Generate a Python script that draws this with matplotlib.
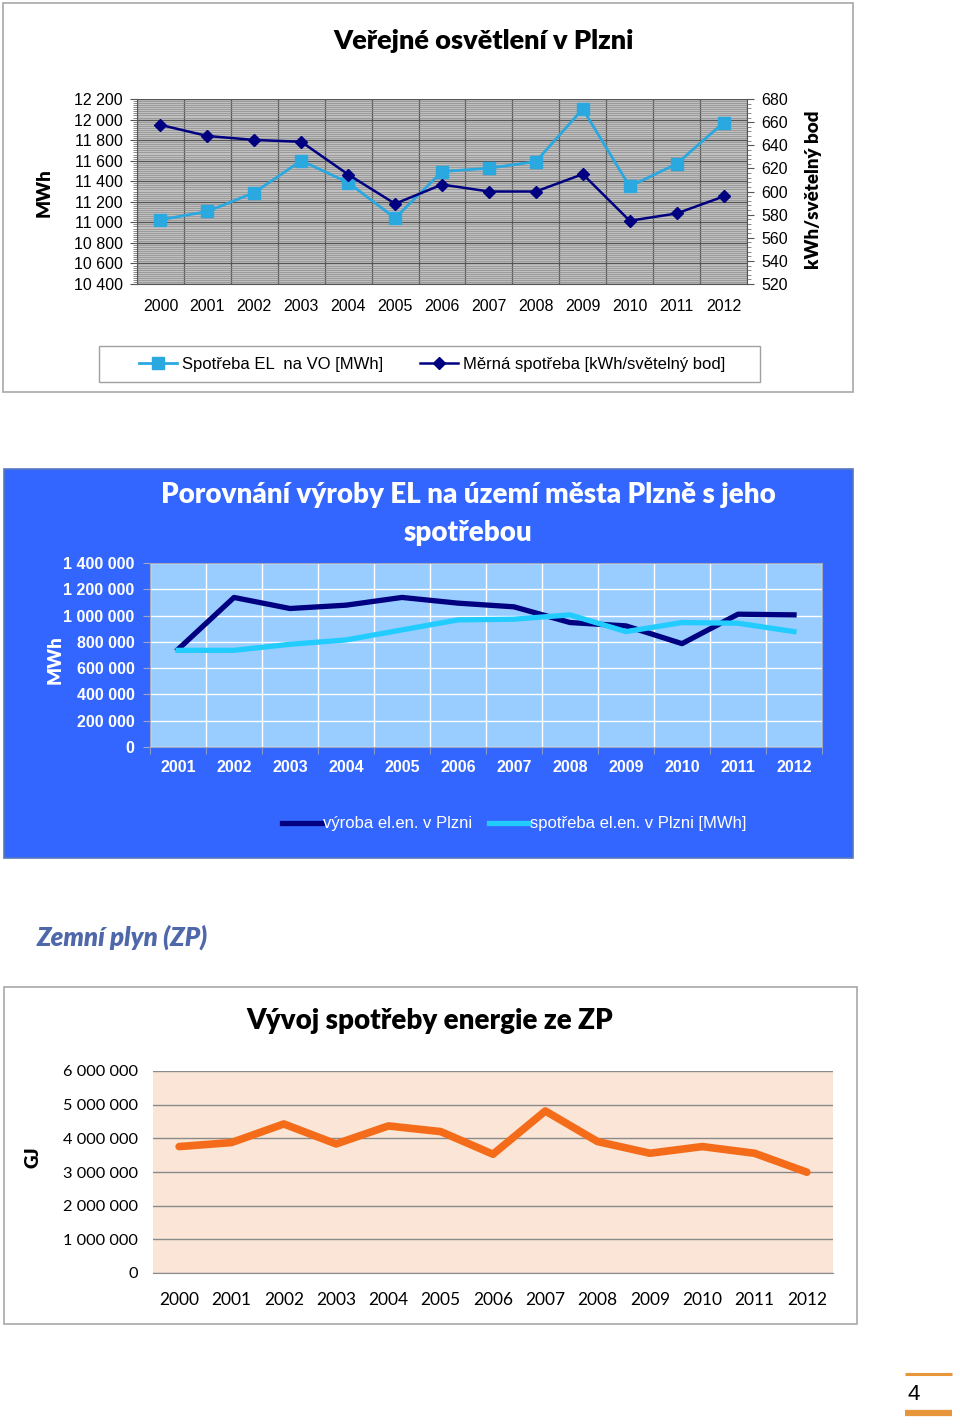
import numpy as np
import matplotlib
matplotlib.use("Agg")
import matplotlib.pyplot as plt
from matplotlib.patches import Rectangle
from matplotlib.lines import Line2D
from matplotlib.ticker import FuncFormatter, MultipleLocator

W, H = 960, 1425
ARIAL = ["Liberation Sans", "DejaVu Sans"]
CALIBRI = ["Lato", "Open Sans", "DejaVu Sans"]

# --- chart 1: Veřejné osvětlení v Plzni
years_vo = [str(y) for y in range(2000, 2013)]
spotreba_vo = [11025, 11106, 11290, 11600, 11387, 11041, 11494, 11527, 11591, 12103, 11349, 11569, 11970]
merna_vo = [657.6, 648, 644.6, 643, 614.7, 589.4, 606, 600, 600, 615, 574.7, 581, 595.7]

# --- chart 2: výroba vs spotřeba
years_el = [str(y) for y in range(2001, 2013)]
vyroba_el = [743000, 1137800, 1053800, 1079000, 1138000, 1094500, 1066500, 947000, 921500, 786500, 1010500, 1005500]
spotreba_el = [735600, 735600, 781500, 814500, 891000, 967000, 972400, 1005500, 878000, 947000, 941800, 878000]

# --- chart 3: zemní plyn
years_zp = [str(y) for y in range(2000, 2013)]
spotreba_zp = [3755000, 3874000, 4427000, 3834000, 4368000, 4200000, 3528000, 4812000, 3903000, 3557000, 3755000, 3557000, 2994000]


def box(x0, y0, x1, y1):
    return [x0 / W, 1 - y1 / H, (x1 - x0) / W, (y1 - y0) / H]


def fx(x):
    return x / W


def fy(y):
    return 1 - y / H


def panel(x0, y0, x1, y1, **kw):
    # background box of one chart, drawn under the axes
    fig.add_artist(Rectangle((fx(x0), fy(y1)), (x1 - x0) / W, (y1 - y0) / H,
                             transform=fig.transFigure, zorder=-5, **kw))


spaced = FuncFormatter(lambda v, p: f"{int(round(v)):,}".replace(",", " "))

fig = plt.figure(figsize=(W / 100, H / 100), dpi=100)
fig.patch.set_facecolor("white")

# ================= chart 1 =================
panel(3, 3, 853, 392, facecolor="white", edgecolor="#A8A8A8", lw=1.2)
ax1 = fig.add_axes(box(137, 99, 747, 284))
ax1.set_facecolor("#C0C0C0")
x1 = np.arange(len(years_vo))
ax1.set_xlim(-0.5, len(years_vo) - 0.5)
ax1.set_ylim(10400, 12200)
ax1.yaxis.set_major_locator(MultipleLocator(200))
ax1.yaxis.set_minor_locator(MultipleLocator(20))
ax1.yaxis.set_major_formatter(spaced)
ax1.set_xticks(x1)
ax1.set_xticklabels(years_vo)
ax1.set_xticks(np.arange(-0.5, len(years_vo), 1), minor=True)
ax1.grid(which="major", axis="y", color="#555555", lw=0.9)
ax1.grid(which="minor", axis="y", color="#8C8C8C", lw=0.5)
ax1.grid(which="minor", axis="x", color="#555555", lw=0.9)
ax1.set_axisbelow(True)
ax1.tick_params(axis="x", which="both", length=0, pad=11, labelsize=11.5)
ax1.tick_params(axis="y", which="major", length=5, color="#555555", labelsize=11.5, pad=5)
ax1.tick_params(axis="y", which="minor", length=3, color="#777777")
for lbl in ax1.get_xticklabels() + ax1.get_yticklabels():
    lbl.set_family(ARIAL)
for s in ["top", "right"]:
    ax1.spines[s].set_visible(False)
ax1.spines["left"].set_color("#555555")
ax1.spines["bottom"].set_color("#555555")

l1, = ax1.plot(x1, spotreba_vo, color="#2AA8E0", lw=2, marker="s", ms=8,
               label="Spotřeba EL  na VO [MWh]", zorder=3)
ax1r = ax1.twinx()
ax1r.set_ylim(520, 680)
ax1r.yaxis.set_major_locator(MultipleLocator(20))
ax1r.yaxis.set_minor_locator(MultipleLocator(4))
ax1r.tick_params(axis="y", which="major", length=5, color="#555555", labelsize=11.5, pad=5)
ax1r.tick_params(axis="y", which="minor", length=3, color="#777777")
for lbl in ax1r.get_yticklabels():
    lbl.set_family(ARIAL)
for s in ["top", "left", "bottom"]:
    ax1r.spines[s].set_visible(False)
ax1r.spines["right"].set_color("#555555")
l2, = ax1r.plot(x1, merna_vo, color="#000080", lw=1.8, marker="D", ms=6.5,
                label="Měrná spotřeba [kWh/světelný bod]", zorder=3)

fig.text(fx(484), fy(41), "Veřejné osvětlení v Plzni", ha="center", va="center",
         fontsize=19.5, fontweight="heavy", family=CALIBRI)
fig.text(fx(44), fy(193), "MWh", rotation=90, ha="center", va="center",
         fontsize=13.5, fontweight="heavy", family=CALIBRI)
fig.text(fx(813), fy(190), "kWh/světelný bod", rotation=90, ha="center", va="center",
         fontsize=13.5, fontweight="heavy", family=CALIBRI)

fig.add_artist(Rectangle((fx(99), fy(382)), fx(661), 36 / H, transform=fig.transFigure,
                         facecolor="white", edgecolor="#A0A0A0", lw=1, zorder=-4))
fig.legend(handles=[l1, l2], loc="center", bbox_to_anchor=(fx(432), fy(364)), ncol=2,
           frameon=False, handlelength=2.3, columnspacing=2.2, handletextpad=0.3,
           prop={"family": ARIAL, "size": 12})

# ================= chart 2 =================
panel(4, 469, 853, 858, facecolor="#3366FF", edgecolor="#5577C0", lw=1.2)
ax2 = fig.add_axes(box(150, 563, 822, 747))
ax2.set_facecolor("#99CCFF")
x2 = np.arange(len(years_el))
ax2.set_xlim(-0.5, len(years_el) - 0.5)
ax2.set_ylim(0, 1400000)
ax2.yaxis.set_major_locator(MultipleLocator(200000))
ax2.yaxis.set_major_formatter(spaced)
ax2.set_xticks(x2)
ax2.set_xticklabels(years_el)
ax2.set_xticks(np.arange(-0.5, len(years_el), 1), minor=True)
ax2.grid(which="major", axis="y", color="white", lw=1)
ax2.grid(which="minor", axis="x", color="white", lw=1)
ax2.set_axisbelow(True)
ax2.tick_params(axis="x", which="major", length=0, pad=9, labelsize=11.5, labelcolor="white")
ax2.tick_params(axis="x", which="minor", length=5, color="#A0A8C0")
ax2.tick_params(axis="y", length=5, color="#A0A8C0", labelsize=11.5, labelcolor="white", pad=6)
for lbl in ax2.get_xticklabels() + ax2.get_yticklabels():
    lbl.set_family(ARIAL)
    lbl.set_fontweight("bold")
for s in ax2.spines.values():
    s.set_color("#A0A8C0")
ax2.plot(x2, vyroba_el, color="#000080", lw=3.8, label="výroba el.en. v Plzni")
ax2.plot(x2, spotreba_el, color="#22CCFF", lw=3.8, label="spotřeba el.en. v Plzni [MWh]")

fig.text(fx(468), fy(514), "Porovnání výroby EL na území města Plzně s jeho\nspotřebou",
         ha="center", va="center", fontsize=20, fontweight="heavy", color="white",
         family=CALIBRI, linespacing=1.55)
fig.text(fx(55), fy(660), "MWh", rotation=90, ha="center", va="center",
         fontsize=13.5, fontweight="heavy", color="white", family=CALIBRI)
leg2 = fig.legend(handles=ax2.get_lines(), loc="center", bbox_to_anchor=(fx(514), fy(824)),
                  ncol=2, frameon=False, handlelength=2.4, columnspacing=1.0, handletextpad=0.05,
                  prop={"family": ARIAL, "size": 12})
for t in leg2.get_texts():
    t.set_color("white")

# ================= chart 3 =================
fig.text(fx(37), fy(937), "Zemní plyn (ZP)", ha="left", va="center", fontsize=18.5,
         fontweight="heavy", fontstyle="italic", color="#4F68AA", family=CALIBRI)
panel(4, 987, 857, 1324, facecolor="white", edgecolor="#A8A8A8", lw=1.2)
ax3 = fig.add_axes(box(153, 1071, 833, 1273))
ax3.set_facecolor("#FBE5D6")
x3 = np.arange(len(years_zp))
ax3.set_xlim(-0.5, len(years_zp) - 0.5)
ax3.set_ylim(0, 6000000)
ax3.yaxis.set_major_locator(MultipleLocator(1000000))
ax3.yaxis.set_major_formatter(spaced)
ax3.set_xticks(x3)
ax3.set_xticklabels(years_zp)
ax3.grid(which="major", axis="y", color="#8A8A8A", lw=1)
ax3.set_axisbelow(True)
ax3.tick_params(axis="x", length=0, pad=14, labelsize=12.5)
ax3.tick_params(axis="y", length=0, labelsize=11.8, pad=11)
for lbl in ax3.get_xticklabels() + ax3.get_yticklabels():
    lbl.set_family(CALIBRI)
for s in ["top", "right", "left"]:
    ax3.spines[s].set_visible(False)
ax3.spines["bottom"].set_color("#8A8A8A")
ax3.plot(x3, spotreba_zp, color="#F46C1A", lw=5.5, solid_capstyle="round",
         solid_joinstyle="round")

fig.text(fx(430), fy(1021), "Vývoj spotřeby energie ze ZP", ha="center", va="center",
         fontsize=20, fontweight="heavy", family=CALIBRI)
fig.text(fx(33), fy(1157), "GJ", rotation=90, ha="center", va="center",
         fontsize=13.5, fontweight="heavy", family=CALIBRI)

# page number
fig.add_artist(Line2D([fx(905), fx(952)], [fy(1374), fy(1374)], transform=fig.transFigure,
                      color="#E8963C", lw=2.2, solid_capstyle="butt"))
fig.add_artist(Line2D([fx(905), fx(952)], [fy(1413), fy(1413)], transform=fig.transFigure,
                      color="#E8963C", lw=4.5, solid_capstyle="butt"))
fig.text(fx(914), fy(1394), "4", ha="center", va="center", fontsize=16, family=ARIAL)

fig.savefig("out.png", dpi=100)
